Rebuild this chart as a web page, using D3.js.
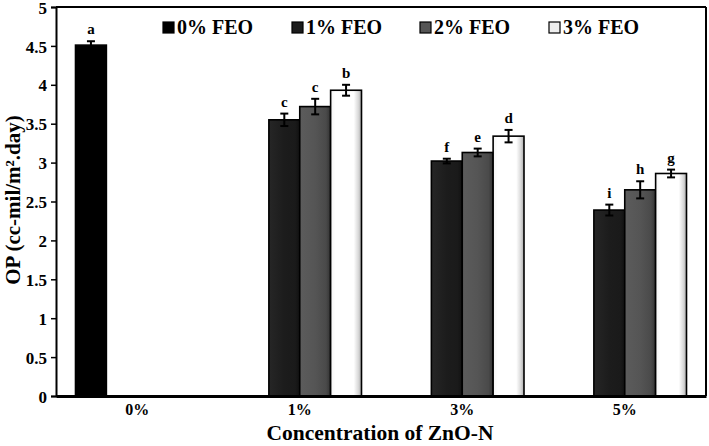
<!DOCTYPE html>
<html><head><meta charset="utf-8">
<script src="https://cdn.jsdelivr.net/npm/d3@7"></script>
<style>body{margin:0;background:#fff}svg{display:block}text{font-family:"Liberation Serif","Times New Roman",serif;font-weight:bold}</style>
</head><body><svg id="c" width="709" height="446"></svg>
<script>
const categories = ["0%","1%","3%","5%"];
const seriesNames = ["0% FEO","1% FEO","2% FEO","3% FEO"];
const values0 = [4.51, null, null, null];
const values1 = [null, 3.55, 3.02, 2.39];
const values2 = [null, 3.72, 3.13, 2.65];
const values3 = [null, 3.93, 3.34, 2.86];
const errors0 = [0.05, null, null, null];
const errors1 = [null, 0.08, 0.03, 0.07];
const errors2 = [null, 0.10, 0.05, 0.11];
const errors3 = [null, 0.07, 0.08, 0.05];
const letters0 = ["a", null, null, null];
const letters1 = [null, "c", "f", "i"];
const letters2 = [null, "c", "e", "h"];
const letters3 = [null, "b", "d", "g"];
const yTicks = [0,0.5,1,1.5,2,2.5,3,3.5,4,4.5,5];

const values=[values0,values1,values2,values3];
const errors=[errors0,errors1,errors2,errors3];
const letters=[letters0,letters1,letters2,letters3];

const svg=d3.select("#c");
const m={l:56,r:706,t:7,b:396};
const x=d3.scaleBand().domain(categories).range([m.l,m.r]).paddingInner(0.24).paddingOuter(0.12);
const xs=d3.scaleBand().domain(d3.range(4)).range([0,x.bandwidth()]);
const y=d3.scaleLinear().domain([0,5]).range([m.b,m.t]);

const defs=svg.append("defs");
function grad(id,stops){const g=defs.append("linearGradient").attr("id",id).attr("x1","0").attr("x2","1").attr("y1","0").attr("y2","0");stops.forEach(s=>g.append("stop").attr("offset",s[0]).attr("stop-color",s[1]));}
grad("g0",[[0,"#000"],[1,"#000"]]);
grad("g1",[[0,"#262626"],[0.5,"#1c1c1c"],[0.85,"#1a1a1a"],[1,"#111"]]);
grad("g2",[[0,"#5c5c5c"],[0.5,"#555"],[0.85,"#4a4a4a"],[1,"#333"]]);
grad("g3",[[0,"#f4f4f4"],[0.15,"#fff"],[0.75,"#fff"],[0.9,"#d8d8d8"],[1,"#aaa"]]);
const fills=["url(#g0)","url(#g1)","url(#g2)","url(#g3)"];
const legendFills=["#000","#1c1c1c","#555","#eee"];

// frame
svg.append("line").attr("x1",m.l).attr("x2",m.r).attr("y1",m.t).attr("y2",m.t).attr("stroke","#000").attr("stroke-width",2);
svg.append("line").attr("x1",m.r).attr("x2",m.r).attr("y1",m.t).attr("y2",m.b).attr("stroke","#000").attr("stroke-width",2);

// bars
values.forEach((vals,s)=>{
  vals.forEach((v,i)=>{
    if(v==null)return;
    const bx=x(categories[i])+xs(s);
    svg.append("rect").attr("x",bx).attr("y",y(v)).attr("width",xs.bandwidth()).attr("height",y(0)-y(v))
      .attr("fill",fills[s]).attr("stroke","#000").attr("stroke-width",1.6);
    const cx=bx+xs.bandwidth()/2, e=errors[s][i];
    svg.append("line").attr("x1",cx).attr("x2",cx).attr("y1",y(v-e)).attr("y2",y(v+e)).attr("stroke","#000").attr("stroke-width",2);
    [v-e,v+e].forEach(t=>svg.append("line").attr("x1",cx-4).attr("x2",cx+4).attr("y1",y(t)).attr("y2",y(t)).attr("stroke","#000").attr("stroke-width",2));
    svg.append("text").attr("x",cx).attr("y",y(v+e)-7).attr("text-anchor","middle").attr("font-size",15).text(letters[s][i]);
  });
});

// y axis
const ya=svg.append("g").attr("transform",`translate(${m.l},0)`).call(d3.axisLeft(y).tickValues(yTicks).tickSize(5).tickFormat(d=>String(d)));
ya.select(".domain").attr("stroke-width",2);
ya.selectAll(".tick line").attr("stroke-width",1.5);
ya.selectAll("text").attr("font-size",17).attr("font-family","Liberation Serif").attr("font-weight","bold").attr("fill","#000").attr("x",-9).attr("dy","0.36em");

// x axis
const xa=svg.append("g").attr("transform",`translate(0,${m.b})`).call(d3.axisBottom(x).tickSize(0));
xa.select(".domain").attr("stroke-width",3);
xa.selectAll("text").attr("font-size",16).attr("font-family","Liberation Serif").attr("font-weight","bold").attr("fill","#000").attr("dy","0").attr("y",19);

// titles
svg.append("text").attr("transform","translate(20,200) rotate(-90)").attr("text-anchor","middle").attr("font-size",21).text("OP (cc-mil/m².day)");
svg.append("text").attr("x",380).attr("y",440).attr("text-anchor","middle").attr("font-size",21.5).text("Concentration of ZnO-N");

// legend
const lx=[163,292,420,549];
seriesNames.forEach((n,i)=>{
  svg.append("rect").attr("x",lx[i]).attr("y",22).attr("width",11).attr("height",11).attr("fill",legendFills[i]).attr("stroke","#000").attr("stroke-width",1.2);
  svg.append("text").attr("x",lx[i]+14).attr("y",34).attr("font-size",20).text(n);
});
</script></body></html>
